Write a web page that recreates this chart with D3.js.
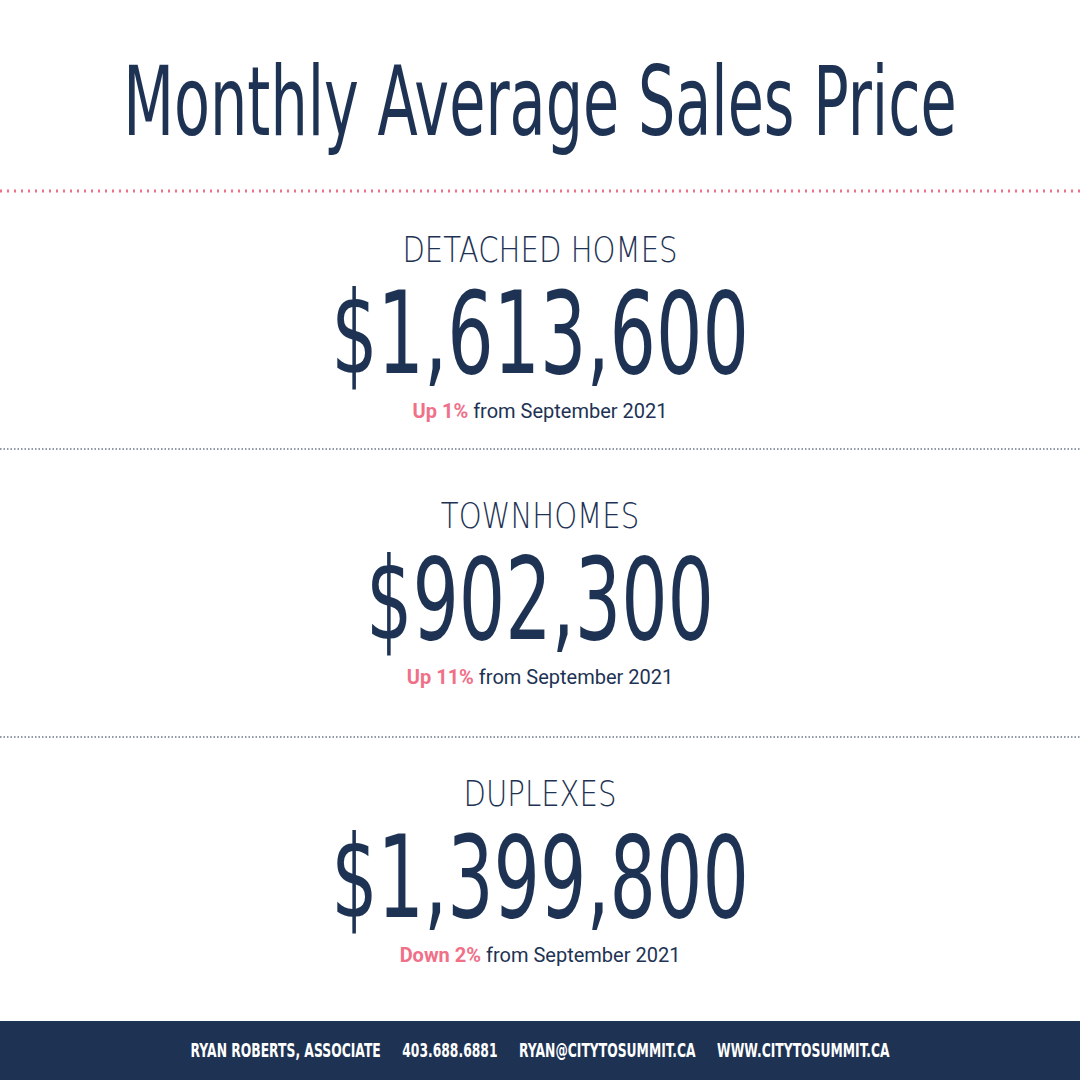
<!DOCTYPE html>
<html><head><meta charset="utf-8">
<script src="https://cdn.jsdelivr.net/npm/d3@7"></script>
<style>body{margin:0;background:#fff}svg{display:block}</style>
</head><body>
<script>
const categories = ["DETACHED HOMES", "TOWNHOMES", "DUPLEXES"];
const prices = [1613600, 902300, 1399800];
const directions = ["Up", "Up", "Down"];
const changes = [1, 11, 2];
const comparePeriod = "from September 2021";
const title = "Monthly Average Sales Price";
const footer = "RYAN ROBERTS, ASSOCIATE     403.688.6881     RYAN@CITYTOSUMMIT.CA     WWW.CITYTOSUMMIT.CA";

const W = 1080, H = 1080, navy = "#1e3354", pink = "#f07088";
const cond = "'DejaVu Sans',sans-serif";
const svg = d3.select("body").append("svg").attr("width", W).attr("height", H);

function squeeze(sel, k, x, y) {
  sel.attr("transform", `translate(${x},${y}) scale(${k},1)`).attr("x", 0).attr("y", 0);
}

svg.append("text").attr("text-anchor", "middle")
  .attr("font-family", cond).attr("font-size", 96).attr("fill", navy)
  .call(squeeze, 0.613, 540, 135).text(title);
svg.append("line").attr("x1", 0).attr("x2", W).attr("y1", 191).attr("y2", 191)
  .attr("stroke", pink).attr("stroke-width", 3).attr("stroke-dasharray", "2,5");

const tops = [0, 266, 544];
const fmt = d3.format("$,");
const g = svg.selectAll("g.sec").data(categories).join("g")
  .attr("transform", (d, i) => `translate(540,${tops[i]})`);
g.append("text").attr("text-anchor", "middle").attr("font-family", cond)
  .attr("font-size", 36).attr("font-weight", 300).attr("fill", navy)
  .call(squeeze, 0.81, 0, 262).text(d => d);
g.append("text").attr("text-anchor", "middle").attr("font-family", cond)
  .attr("font-size", 114).attr("fill", navy)
  .call(squeeze, 0.64, 0, 373).text((d, i) => fmt(prices[i]));
const sub = g.append("text").attr("text-anchor", "middle")
  .attr("font-family", "Roboto, sans-serif").attr("font-size", 20).attr("fill", navy)
  .call(squeeze, 1.0, 0, 418);
sub.append("tspan").attr("fill", pink).attr("font-weight", 700)
  .text((d, i) => `${directions[i]} ${changes[i]}%`);
sub.append("tspan").text(" " + comparePeriod);
svg.selectAll("line.sep").data([449, 737]).join("line").attr("x1", 0).attr("x2", W)
  .attr("y1", d => d).attr("y2", d => d).attr("stroke", navy).attr("stroke-width", 1.2)
  .attr("stroke-dasharray", "1.5,2");

svg.append("rect").attr("x", 0).attr("y", 1021).attr("width", W).attr("height", 59).attr("fill", navy);
svg.append("text").attr("text-anchor", "middle")
  .attr("font-family", cond).attr("font-weight", 700).attr("font-size", 19)
  .attr("fill", "#fff").attr("xml:space", "preserve").style("white-space", "pre")
  .call(squeeze, 0.65, 540, 1057).text(footer);
</script>
</body></html>
